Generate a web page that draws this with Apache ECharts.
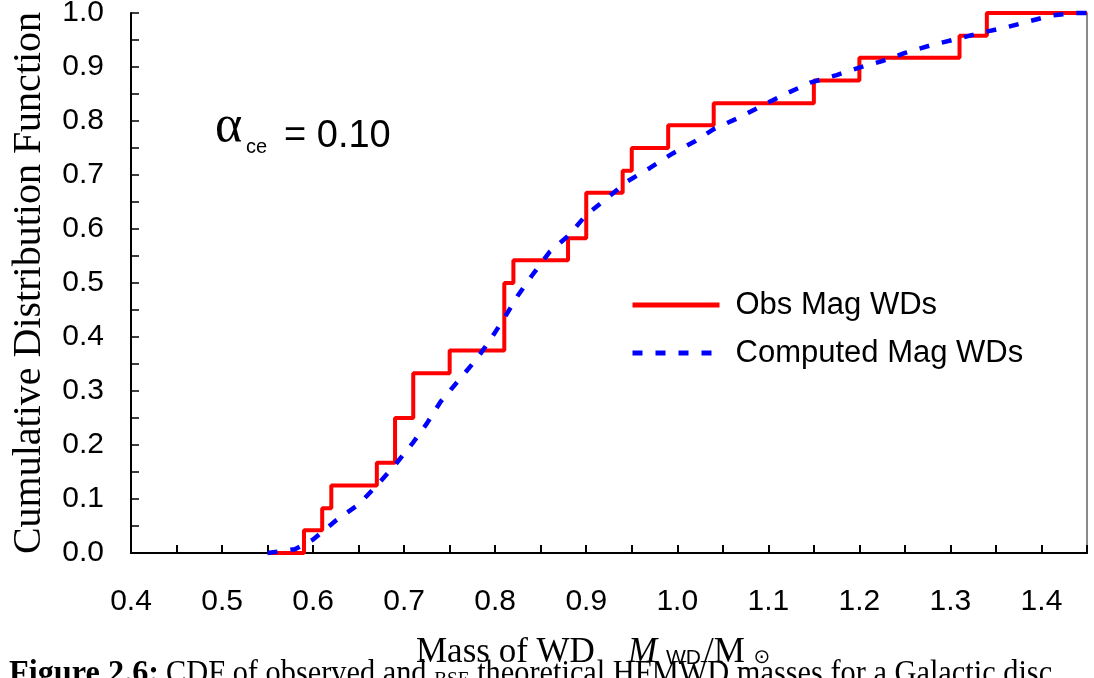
<!DOCTYPE html>
<html><head><meta charset="utf-8">
<script src="https://cdn.jsdelivr.net/npm/echarts@6/dist/echarts.min.js"></script>
<style>html,body{margin:0;padding:0;background:#fff}#c{width:1094px;height:678px}</style>
</head><body><div id="c"></div>
<script>
// ---- data ----
const obsMass = [0.55, 0.59, 0.61, 0.62, 0.67, 0.69, 0.71, 0.75, 0.81, 0.82, 0.88, 0.90, 0.94, 0.95, 0.99, 1.04, 1.15, 1.20, 1.31, 1.34, 1.45];
const obsCdf  = [0.0, 0.042, 0.083, 0.125, 0.167, 0.25, 0.333, 0.375, 0.5, 0.542, 0.583, 0.667, 0.708, 0.75, 0.792, 0.833, 0.875, 0.917, 0.958, 1.0, 1.0];
const compMass = [0.55, 0.58, 0.60, 0.625, 0.65, 0.67, 0.69, 0.71, 0.725, 0.74, 0.76, 0.78, 0.795, 0.81, 0.825, 0.84, 0.86, 0.88, 0.90, 0.92, 0.945, 0.97, 0.995, 1.02, 1.04, 1.07, 1.095, 1.12, 1.146, 1.175, 1.20, 1.225, 1.25, 1.28, 1.305, 1.33, 1.36, 1.385, 1.41, 1.435, 1.45];
const compCdf  = [0.0, 0.007, 0.025, 0.06, 0.09, 0.125, 0.163, 0.205, 0.24, 0.28, 0.32, 0.36, 0.396, 0.435, 0.477, 0.513, 0.558, 0.587, 0.626, 0.653, 0.688, 0.713, 0.74, 0.763, 0.785, 0.808, 0.83, 0.851, 0.871, 0.885, 0.899, 0.911, 0.926, 0.941, 0.951, 0.962, 0.973, 0.984, 0.995, 1.0, 1.0];
const seriesNames = ['Obs Mag WDs', 'Computed Mag WDs'];
const xTickLabels = ['0.4','0.5','0.6','0.7','0.8','0.9','1.0','1.1','1.2','1.3','1.4'];
const yTickLabels = ['0.0','0.1','0.2','0.3','0.4','0.5','0.6','0.7','0.8','0.9','1.0'];

const sans = '"Liberation Sans", Arial, sans-serif';
const serif = '"Liberation Serif", "Times New Roman", serif';

function tickFmt(labels, start) {
  return function (v) {
    const k = Math.round(v * 100);
    if (k % 10 !== 0) return '';
    const idx = Math.round((v - start) * 10);
    return labels[idx] !== undefined ? labels[idx] : '';
  };
}

const chart = echarts.init(document.getElementById('c'), null, {renderer: 'canvas'});
const option = {
  animation: false,
  backgroundColor: '#fff',
  grid: {left: 131, right: 7, top: 13, bottom: 125, containLabel: false, outerBoundsMode: 'none'},
  xAxis: [{
    type: 'value', min: 0.4, max: 1.45, interval: 0.05,
    axisLine: {lineStyle: {color: '#000', width: 2}},
    axisTick: {inside: true, length: 8, lineStyle: {color: '#000', width: 2}},
    axisLabel: {formatter: tickFmt(xTickLabels, 0.4), fontSize: 30, fontFamily: sans, color: '#000', margin: 34, hideOverlap: false},
    splitLine: {show: false}
  }, {
    type: 'value', position: 'top', min: 0.4, max: 1.45,
    axisLine: {show: true, lineStyle: {color: '#000', width: 1.5}},
    axisTick: {show: false}, axisLabel: {show: false}, splitLine: {show: false}
  }],
  yAxis: [{
    type: 'value', min: 0, max: 1, interval: 0.05,
    name: 'Cumulative Distribution Function', nameLocation: 'middle', nameGap: 82,
    nameTextStyle: {fontFamily: serif, fontSize: 40, color: '#000'},
    axisLine: {show: true, lineStyle: {color: '#000', width: 2}},
    axisTick: {show: true, inside: true, length: 8, lineStyle: {color: '#000', width: 1.5}},
    axisLabel: {formatter: tickFmt(yTickLabels, 0), fontSize: 30, fontFamily: sans, color: '#000', margin: 27},
    splitLine: {show: false}
  }, {
    type: 'value', position: 'right', min: 0, max: 1,
    axisLine: {show: true, lineStyle: {color: '#8a8a8a', width: 2}},
    axisTick: {show: false}, axisLabel: {show: false}, splitLine: {show: false}
  }],
  legend: {
    left: 630, top: 287, orient: 'vertical', padding: 0,
    itemWidth: 87, itemHeight: 14, itemGap: 12,
    data: seriesNames, selectedMode: false,
    itemStyle: {opacity: 0},
    lineStyle: {width: 5},
    textStyle: {fontFamily: sans, fontSize: 31, lineHeight: 36, color: '#000', padding: [0, 0, 0, 11]}
  },
  series: [{
    name: seriesNames[0], type: 'line', step: 'end', symbol: 'none', clip: false, z: 2,
    data: obsMass.map((m, i) => [m, obsCdf[i]]),
    lineStyle: {color: '#ff0000', width: 4}, itemStyle: {color: '#ff0000'}
  }, {
    name: seriesNames[1], type: 'line', symbol: 'none', clip: false, z: 3,
    data: compMass.map((m, i) => [m, compCdf[i]]),
    lineStyle: {color: '#0000ff', width: 4.5, type: [10, 13]}, itemStyle: {color: '#0000ff'}
  }],
  graphic: [
    {type: 'text', x: 215, y: 127, style: {text: 'α', font: '52px ' + serif, fill: '#000', align: 'left', verticalAlign: 'middle'}},
    {type: 'text', x: 246, y: 147, style: {text: 'ce', font: '20px ' + sans, fill: '#000', align: 'left', verticalAlign: 'middle'}},
    {type: 'text', x: 284, y: 137, style: {text: '= 0.10', font: '38px ' + sans, fill: '#000', align: 'left', verticalAlign: 'middle'}},
    {type: 'text', x: 416, y: 653, style: {text: 'Mass of WD', font: '35px ' + serif, fill: '#000', align: 'left', verticalAlign: 'middle'}},
    {type: 'text', x: 628, y: 653, style: {text: 'M', font: 'italic 35px ' + serif, fill: '#000', align: 'left', verticalAlign: 'middle'}},
    {type: 'text', x: 666, y: 658, style: {text: 'WD', font: '21px ' + sans, fill: '#000', align: 'left', verticalAlign: 'middle'}},
    {type: 'text', x: 704, y: 653, style: {text: '/M', font: '35px ' + serif, fill: '#000', align: 'left', verticalAlign: 'middle'}},
    {type: 'text', x: 762, y: 658, style: {text: '⊙', font: '20px "DejaVu Sans"', fill: '#000', align: 'center', verticalAlign: 'middle'}},
    {type: 'text', x: 9, y: 674, scaleX: 0.95, style: {text: 'Figure 2.6:', font: 'bold 34px ' + serif, fill: '#000', align: 'left', verticalAlign: 'middle'}},
    {type: 'text', x: 166, y: 674, scaleX: 0.92, style: {
      text: '{n|CDF of observed and }{s|BSE}{n| theoretical HFMWD masses for a Galactic disc}',
      align: 'left', verticalAlign: 'middle', fill: '#000',
      rich: {
        n: {font: '33px ' + serif, fill: '#000', lineHeight: 33, verticalAlign: 'bottom'},
        s: {font: '21px ' + serif, fill: '#000', lineHeight: 21, verticalAlign: 'bottom'}
      }
    }}
  ]
};
chart.setOption(option);
</script>
</body></html>
